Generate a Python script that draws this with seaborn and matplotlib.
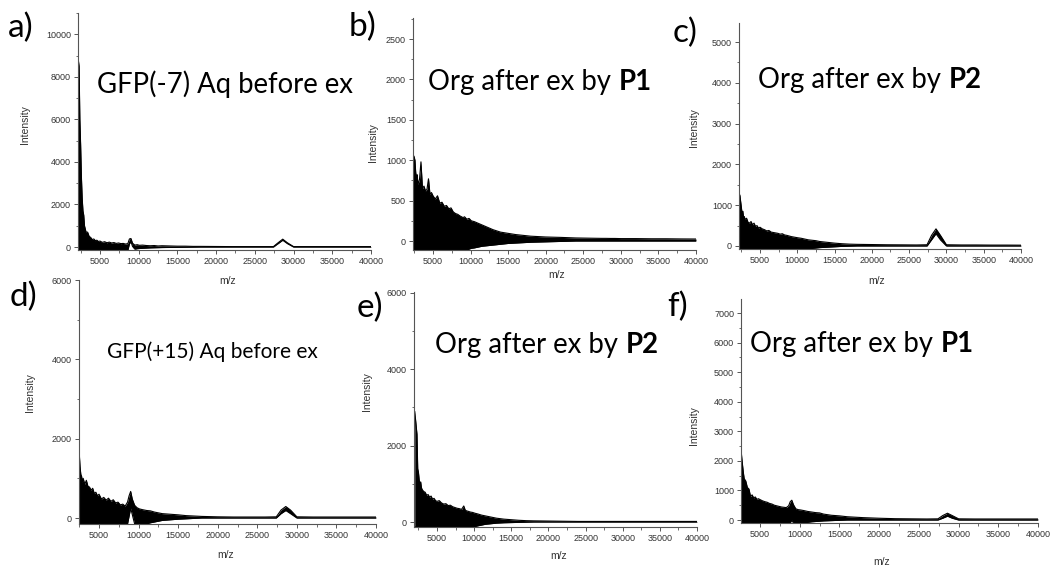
import matplotlib
matplotlib.use("Agg")
import numpy as np
import pandas as pd
import matplotlib.pyplot as plt
import seaborn as sns
from matplotlib.ticker import MultipleLocator

# ---------------- data ----------------
MZ = [2000, 2300, 2400, 2500, 2600, 2700, 2800, 2900, 3000, 3200,
      3400, 3600, 3800, 4000, 4200, 4400, 4600, 4800, 5000, 5300,
      5600, 5900, 6200, 6500, 6800, 7100, 7400, 7700, 8000, 8300,
      8600, 8800, 9000, 9200, 9500, 9800, 10100, 10500, 11000, 11500,
      12000, 12500, 13000, 14000, 15000, 16000, 17000, 18000, 20000, 22000,
      24000, 26000, 27400, 28000, 28600, 29200, 30000, 32000, 34000, 36000,
      38000, 40000]

a_upper = [9400, 8500, 6000, 4800, 3300, 2300, 1700, 1500, 1000, 700,
           700, 500, 450, 350, 380, 300, 320, 260, 280, 220,
           250, 200, 230, 190, 210, 170, 190, 160, 170, 140,
           160, 380, 400, 180, 90, 110, 80, 90, 70, 60,
           70, 50, 60, 50, 40, 40, 30, 30, 25, 20,
           20, 20, 20, 200, 370, 200, 20, 20, 20, 20,
           20, 20]
a_lower = [-150] * 30 + [
           -150, 150, 250, 30, -100, -80, -70, -60, -50, -40,
           -35, -30, -25, -20, -15, -10, -5, 0, 0, 0,
           0, 0, 0, 160, 320, 160, 0, 0, 0, 0,
           0, 0]

b_upper = [1060, 1060, 1060, 1040, 1000, 850, 780, 820, 700, 760,
           980, 650, 680, 620, 640, 770, 580, 600, 560, 520,
           560, 470, 480, 430, 440, 400, 410, 360, 340, 330,
           310, 300, 290, 300, 270, 280, 250, 240, 220, 200,
           180, 160, 140, 110, 95, 80, 70, 60, 50, 45,
           38, 35, 33, 33, 32, 32, 30, 30, 28, 28,
           26, 25]
b_lower = [-115] * 30 + [
           -115, -115, -115, -115, -115, -100, -90, -85, -75, -65,
           -60, -55, -50, -40, -30, -25, -20, -15, -10, -5,
           0, 0, 0, 0, 0, 0, 0, 0, 0, 0,
           0, 0]

c_upper = [1250, 1250, 1100, 950, 800, 850, 700, 720, 650, 680,
           580, 560, 600, 520, 560, 480, 500, 440, 460, 420,
           400, 370, 380, 340, 330, 320, 310, 290, 300, 270,
           260, 250, 240, 230, 220, 210, 200, 190, 170, 150,
           140, 130, 110, 90, 70, 55, 45, 40, 35, 30,
           28, 25, 30, 260, 420, 260, 30, 25, 25, 22,
           22, 20]
c_lower = [-100] * 30 + [
           -100, -100, -100, -100, -100, -100, -100, -90, -80, -70,
           -60, -50, -40, -30, -20, -10, -5, 0, 0, 0,
           0, 0, 0, 150, 300, 150, 0, 0, 0, 0,
           0, 0]

d_upper = [1650, 1650, 1650, 1640, 1300, 1100, 1050, 900, 1000, 850,
           950, 800, 780, 700, 750, 620, 650, 560, 600, 480,
           520, 450, 500, 420, 460, 380, 400, 330, 350, 300,
           400, 560, 670, 480, 320, 260, 230, 210, 190, 180,
           150, 130, 110, 95, 80, 60, 50, 40, 30, 25,
           25, 25, 30, 200, 290, 200, 30, 25, 25, 25,
           25, 25]
d_lower = [-150] * 30 + [
           -150, 50, 250, 90, -150, -150, -150, -150, -150, -120,
           -100, -80, -60, -45, -30, -20, -10, 0, 0, 0,
           0, 0, 0, 110, 190, 110, 0, 0, 0, 0,
           0, 0]

e_upper = [2900, 2300, 1400, 1300, 1100, 1000, 1050, 900, 850, 800,
           780, 700, 720, 650, 680, 600, 620, 560, 540, 560,
           500, 470, 480, 430, 440, 400, 380, 360, 350, 330,
           420, 310, 290, 280, 260, 250, 230, 210, 180, 160,
           140, 120, 100, 75, 60, 45, 35, 30, 25, 20,
           15, 15, 15, 15, 15, 15, 15, 15, 15, 15,
           15, 15]
e_lower = [-130] * 30 + [
           -130, -130, -130, -130, -130, -130, -120, -100, -80, -60,
           -50, -40, -30, -20, -15, -10, -5, 0, 0, 0,
           0, 0, 0, 0, 0, 0, 0, 0, 0, 0,
           0, 0]

f_upper = [2400, 2400, 2400, 2400, 2400, 2100, 1840, 1600, 1400, 1320,
           1100, 1050, 800, 850, 750, 780, 700, 720, 690, 650,
           620, 600, 560, 540, 500, 480, 460, 440, 430, 420,
           480, 620, 670, 520, 380, 350, 340, 320, 290, 270,
           250, 240, 200, 160, 140, 110, 95, 80, 60, 45,
           40, 35, 40, 150, 230, 150, 40, 35, 35, 35,
           35, 35]
f_lower = [-100] * 30 + [
           -100, -100, 0, -100, -100, -100, -100, -90, -80, -60,
           -50, -40, -30, -20, -10, 0, 0, 0, 0, 0,
           0, 0, 0, 60, 130, 60, 0, 0, 0, 0,
           0, 0]

LETTERS = ["a)", "b)", "c)", "d)", "e)", "f)"]
TITLES = [("GFP(-7) Aq before ex", ""),
          ("Org after ex by", "P1"),
          ("Org after ex by", "P2"),
          ("GFP(+15) Aq before ex", ""),
          ("Org after ex by", "P2"),
          ("Org after ex by", "P1")]
XLABEL = "m/z"
YLABEL = "Intensity"

# ---------------- layout / style ----------------
sns.set_theme(style="ticks")
plt.rcParams["font.family"] = ["Liberation Sans", "DejaVu Sans"]

W, H = 1055, 566
fig = plt.figure(figsize=(W / 100, H / 100), dpi=100)
fig.patch.set_facecolor("white")

# (left, top, right, bottom) in pixels
boxes = [(78, 13, 371, 250), (413, 18, 696, 250), (739, 23, 1021, 249),
         (79, 280, 376, 524), (414, 292, 697, 527), (741, 299, 1038, 523)]
xmins = [2160, 2340, 2185, 2470, 1900, 2600]
ylims = [(-140, 11000), (-111, 2760), (-74, 5466),
         (-151, 6000), (-131, 6026), (-101, 7474)]
ymaj = [2000, 500, 1000, 2000, 2000, 1000]
ymin_ = [1000, 250, 500, 1000, 1000, 500]
ylabel_pos = [(25, 125), (373, 143), (694, 128), (30, 393), (367, 392), (694, 426)]
xlabel_pos = [(228, 281), (557, 275), (877, 281), (226, 555), (559, 556), (882, 562)]
letter_pos = [(8, 28), (349, 27), (673, 33), (10, 297), (357, 308), (667, 307)]
title_pos = [(97, 93, 19.8), (428, 90, 19.8), (758, 88, 19.8),
             (107, 358, 15), (435, 353, 19.8), (750, 352, 19.8)]

uppers = [a_upper, b_upper, c_upper, d_upper, e_upper, f_upper]
lowers = [a_lower, b_lower, c_lower, d_lower, e_lower, f_lower]

axes_col = "#555555"
for i in range(6):
    l, t, r, b = boxes[i]
    ax = fig.add_axes([l / W, 1 - b / H, (r - l) / W, (b - t) / H])
    df = pd.DataFrame({"mz": MZ, "upper": uppers[i], "lower": lowers[i]})
    ax.fill_between(df["mz"], df["lower"], df["upper"], color="black", lw=0)
    sns.lineplot(data=df, x="mz", y="upper", ax=ax, color="black", lw=0.8,
                 estimator=None, sort=False)
    sns.lineplot(data=df, x="mz", y="lower", ax=ax, color="black", lw=0.8,
                 estimator=None, sort=False)
    ax.set_xlim(xmins[i], 40000)
    ax.set_ylim(*ylims[i])
    ax.set_xlabel("")
    ax.set_ylabel("")
    ax.set_facecolor("none")
    for s in ["top", "right"]:
        ax.spines[s].set_visible(False)
    for s in ["left", "bottom"]:
        ax.spines[s].set_color(axes_col)
        ax.spines[s].set_linewidth(0.8)
    ax.xaxis.set_major_locator(MultipleLocator(5000))
    ax.xaxis.set_minor_locator(MultipleLocator(2500))
    ax.yaxis.set_major_locator(MultipleLocator(ymaj[i]))
    ax.yaxis.set_minor_locator(MultipleLocator(ymin_[i]))
    ax.tick_params(which="major", direction="out", length=3, width=0.7,
                   color=axes_col, labelsize=6.5, labelcolor="#333333", pad=2)
    ax.tick_params(which="minor", direction="out", length=1.8, width=0.6,
                   color=axes_col)

    x, y = ylabel_pos[i]
    fig.text(x / W, 1 - y / H, YLABEL, rotation=90, ha="center", va="center",
             fontsize=7.5, color="#333333")
    x, y = xlabel_pos[i]
    fig.text(x / W, 1 - y / H, XLABEL, ha="center", va="center",
             fontsize=7.5, color="#333333")
    x, y = letter_pos[i]
    fig.text(x / W, 1 - y / H, LETTERS[i], ha="left", va="center",
             fontsize=24, family=["Lato", "DejaVu Sans"], color="black")

renderer = fig.canvas.get_renderer()
for i in range(6):
    x, y, fs = title_pos[i]
    normal, bold = TITLES[i]
    t = fig.text(x / W, 1 - y / H, normal, ha="left", va="baseline",
                 fontsize=fs, family=["Lato", "DejaVu Sans"], color="black")
    if bold:
        bb = t.get_window_extent(renderer)
        gap = fs * 100 / 72 * 0.27
        fig.text((bb.x1 + gap) / W, 1 - y / H, bold, ha="left", va="baseline",
                 fontsize=fs, fontweight="bold", family=["Lato", "DejaVu Sans"],
                 color="black")

fig.savefig("out.png", dpi=100)
